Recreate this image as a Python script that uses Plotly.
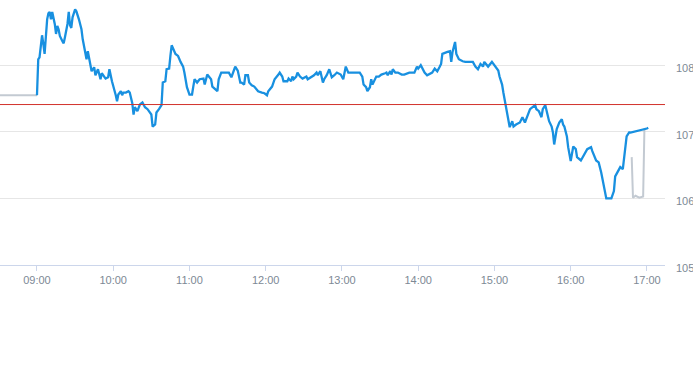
import plotly.graph_objects as go

DAY = "2024-01-02 "

times = ["09:00","09:01","09:02","09:04","09:05","09:06","09:08","09:09","09:10","09:11","09:12","09:14","09:15","09:16","09:17","09:18","09:20","09:21","09:22","09:24","09:25","09:26","09:27","09:28","09:30","09:31","09:33","09:35","09:36","09:38","09:39","09:40","09:42","09:43","09:45","09:46","09:48","09:50","09:51","09:53","09:54","09:56","09:57","09:59",
"10:01","10:02","10:03","10:04","10:06","10:07","10:08","10:10","10:12","10:13","10:15","10:16","10:17","10:19","10:21","10:23","10:25","10:27","10:30","10:31","10:33","10:34","10:36","10:38","10:39","10:41","10:42","10:44","10:45","10:46","10:49","10:51","10:53","10:55","10:56","10:58",
"11:00","11:02","11:03","11:04","11:06","11:08","11:11","11:12","11:14","11:17","11:18","11:22","11:23","11:25","11:29","11:31","11:33","11:35","11:36","11:38","11:39","11:40","11:41","11:43","11:44","11:46","11:47","11:49","11:51","11:52","11:54","11:57","11:59",
"12:01","12:02","12:05","12:07","12:10","12:11","12:13","12:14","12:17","12:18","12:20","12:21","12:22","12:24","12:25","12:27","12:29","12:32","12:33","12:36","12:38","12:40","12:41","12:43","12:45","12:46","12:48","12:50","12:52","12:54","12:56","12:59",
"13:01","13:03","13:05","13:08","13:10","13:14","13:16","13:17","13:19","13:20","13:22","13:23","13:24","13:27","13:29","13:31","13:34","13:35","13:36","13:38","13:39","13:40","13:42","13:44","13:47","13:49","13:53","13:57","13:59",
"14:00","14:02","14:04","14:05","14:07","14:11","14:13","14:15","14:17","14:18","14:19","14:22","14:23","14:25","14:26","14:27","14:29","14:30","14:32","14:35","14:37","14:41","14:43","14:45","14:47","14:49","14:51","14:52","14:55","14:58","14:59",
"15:01","15:03","15:04","15:06","15:07","15:08","15:10","15:11","15:12","15:14","15:15","15:17","15:20","15:22","15:24","15:25","15:28","15:30","15:32","15:33","15:35","15:37","15:38","15:40","15:41","15:42","15:43","15:45","15:46","15:47","15:49","15:51","15:53","15:54","15:55","15:57","15:58",
"16:00","16:02","16:04","16:05","16:08","16:10","16:13","16:16","16:17","16:20","16:22","16:24","16:25","16:27","16:28","16:32","16:34","16:35","16:37","16:39","16:41","16:42","16:44","16:46","16:47","17:00","17:01"]

prices = [107.55,108.09,108.12,108.45,108.32,108.17,108.69,108.78,108.80,108.69,108.80,108.62,108.47,108.59,108.54,108.44,108.36,108.33,108.42,108.62,108.80,108.60,108.56,108.72,108.84,108.81,108.69,108.54,108.39,108.20,108.09,108.21,108.02,107.91,107.97,107.85,107.94,107.79,107.88,107.82,107.80,107.82,107.94,107.76,
107.64,107.55,107.46,107.56,107.61,107.55,107.59,107.59,107.61,107.59,107.43,107.26,107.37,107.31,107.41,107.44,107.37,107.34,107.26,107.08,107.11,107.29,107.34,107.40,107.74,107.76,107.94,107.95,108.14,108.30,108.17,108.14,108.05,107.98,107.89,107.67,
107.56,107.56,107.68,107.79,107.74,107.79,107.80,107.71,107.86,107.79,107.68,107.61,107.79,107.89,107.89,107.89,107.82,107.95,107.98,107.92,107.82,107.74,107.74,107.71,107.85,107.85,107.74,107.70,107.68,107.65,107.61,107.59,107.58,
107.55,107.61,107.68,107.79,107.86,107.89,107.83,107.76,107.76,107.80,107.76,107.83,107.79,107.83,107.89,107.83,107.80,107.83,107.79,107.82,107.85,107.89,107.85,107.91,107.74,107.79,107.85,107.94,107.82,107.85,107.89,107.86,
107.79,107.98,107.89,107.89,107.89,107.89,107.83,107.71,107.67,107.61,107.67,107.79,107.71,107.83,107.83,107.86,107.88,107.89,107.85,107.91,107.86,107.94,107.89,107.89,107.86,107.86,107.89,107.89,107.98,
107.95,108.00,107.91,107.89,107.85,107.89,107.95,107.91,107.98,108.02,108.17,108.20,108.20,108.21,108.05,108.20,108.35,108.17,108.09,108.06,108.05,108.05,108.05,107.98,107.94,108.02,107.98,108.05,107.98,108.05,108.02,
107.98,107.92,107.83,107.71,107.59,107.49,107.31,107.22,107.07,107.16,107.08,107.11,107.14,107.22,107.14,107.19,107.34,107.37,107.40,107.34,107.31,107.22,107.34,107.40,107.31,107.23,107.16,107.08,106.99,106.81,107.04,107.14,107.19,107.11,107.08,106.93,106.77,
106.56,106.78,106.74,106.62,106.57,106.63,106.74,106.77,106.71,106.57,106.54,106.39,106.29,106.06,106.00,106.00,106.11,106.33,106.39,106.47,106.44,106.62,106.93,106.99,106.99,107.05,107.06]

pre_times = ["08:30", "09:00"]
pre_prices = [107.55, 107.55]

post_times = ["16:48", "16:49", "16:51", "16:54", "16:57", "16:58", "16:59"]
post_prices = [106.62, 106.01, 106.04, 106.01, 106.03, 107.04, 107.05]

prev_close = 107.41

y_ticks = [105, 106, 107, 108]
x_range = ["08:30:54", "17:14:12"]

fig = go.Figure()
fig.add_trace(go.Scatter(x=[DAY + t for t in pre_times], y=pre_prices, mode="lines",
                         line=dict(color="#c3cad2", width=2), hoverinfo="skip"))
fig.add_trace(go.Scatter(x=[DAY + t for t in post_times], y=post_prices, mode="lines",
                         line=dict(color="#c3cad2", width=2), hoverinfo="skip"))
fig.add_trace(go.Scatter(x=[DAY + t for t in times], y=prices, mode="lines",
                         line=dict(color="#1890e0", width=2.3)))

fig.add_shape(type="line", xref="paper", x0=0, x1=1, yref="y", y0=prev_close, y1=prev_close,
              line=dict(color="#d2322c", width=1))

fig.update_layout(
    width=693, height=365,
    margin=dict(l=0, r=28, t=0, b=100),
    paper_bgcolor="white", plot_bgcolor="white",
    showlegend=False,
    font=dict(family="Liberation Sans, Arial, sans-serif", size=11, color="#7d8995"),
    xaxis=dict(type="date", range=[DAY + x_range[0], DAY + x_range[1]],
               tickformat="%H:%M", dtick=3600000, tick0=DAY + "09:00",
               showgrid=False, zeroline=False,
               showline=True, linecolor="#ccd6eb", linewidth=1,
               ticks="outside", ticklen=5, tickcolor="#ccd6eb",
               tickfont=dict(size=11, color="#7d8995")),
    yaxis=dict(range=[105, 108.98], side="right", tickvals=y_ticks,
               showgrid=True, gridcolor="#e6e6e6", zeroline=False, showline=False,
               ticks="", ticklabelstandoff=10, ticklabelshift=3,
               tickfont=dict(size=11, color="#7d8995")),
)

fig.write_html("out.html", config={"displayModeBar": False},
               post_script="document.body.style.margin='0';document.body.style.overflow='hidden';")
